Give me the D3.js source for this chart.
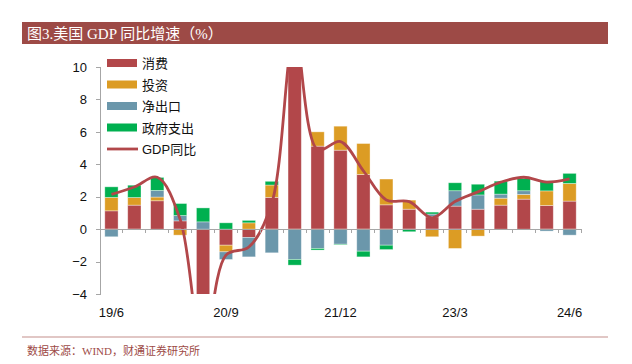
<!DOCTYPE html>
<meta charset="utf-8" />
<style>
  body {
    margin: 0;
    background: #fff;
    font: 13px "Liberation Sans", Arial, sans-serif;
  }

  .axis path,
  .axis line {
    fill: none;
    stroke: #a6a6a6;
    stroke-width: 1;
    shape-rendering: crispEdges;
  }

  .axis text {
    font: 13px "Liberation Sans", Arial, sans-serif;
    fill: #111;
  }

  .legend {
    font: 13px "Liberation Sans", "Noto Sans CJK SC", sans-serif;
    fill: #111;
  }
</style>
<body>
  <script src="https://d3js.org/d3.v7.min.js"></script>

  <script>
    // quarters (yy/m), only every 5th is labelled
    var quarters = ["19/6", "19/9", "19/12", "20/3", "20/6", "20/9", "20/12",
      "21/3", "21/6", "21/9", "21/12", "22/3", "22/6", "22/9", "22/12",
      "23/3", "23/6", "23/9", "23/12", "24/3", "24/6"];
    var tickLabels = ["19/6", "20/9", "21/12", "23/3", "24/6"];
    var yTicks = [-4, -2, 0, 2, 4, 6, 8, 10];

    var seriesNames = ["消费", "投资", "净出口", "政府支出"];
    var consumption = [1.13, 1.48, 1.75, 0.51, -6.9, -0.99, -0.51, 1.96, 11.5, 5.12, 4.87,
      3.37, 1.5, 1.23, 0.76, 1.42, 1.23, 1.48, 1.85, 1.46, 1.73];
    var investment = [0.83, 0.47, 0.23, -0.37, -1.9, -0.41, 0.39, 0.76, 2.7, 0.88, 1.48,
      1.91, 1.59, 0.56, -0.47, -1.19, -0.43, 0.43, 0.29, 0.9, 1.09];
    var netExports = [-0.47, -0.05, 0.41, 0.33, 0.45, -0.47, -1.2, -1.46, -1.87, -1.19, -0.93,
      -1.36, -0.99, 0, 0.17, 0.95, 0.88, 0.25, 0.23, -0.12, -0.37];
    var government = [0.65, 0.76, 0.8, 0.74, 0.86, 0.39, 0.15, 0.23, -0.35, -0.1, -0.04,
      -0.35, -0.27, -0.16, 0.12, 0.49, 0.66, 0.8, 0.76, 0.62, 0.62];
    var gdp = [2.15, 2.6, 3.2, 0.6, -7.5, -1.6, -1.1, 1.6, 12.0, 4.9, 5.4,
      3.6, 1.8, 1.7, 0.7, 1.7, 2.3, 2.9, 3.2, 2.9, 3.1];

    var colors = ["#b2474a", "#dc9c24", "#6b97ab", "#00b050"];
    var lineColor = "#b2474a";

    var W = 632, H = 364;
    var margin = { top: 67, right: 51, bottom: 70, left: 100 },
      width = W - margin.left - margin.right,
      height = H - margin.top - margin.bottom;

    var svg = d3.select("body").append("svg")
      .attr("width", W)
      .attr("height", H);

    // title bar
    svg.append("rect")
      .attr("x", 22).attr("y", 22)
      .attr("width", 586).attr("height", 22)
      .attr("fill", "#9d4a46");
    svg.append("text")
      .attr("x", 27).attr("y", 39)
      .style("font", "15px 'Liberation Serif', 'Noto Sans CJK SC', serif")
      .attr("fill", "#fff")
      .text("图3.美国 GDP 同比增速（%）");

    // source line
    svg.append("line")
      .attr("x1", 22).attr("x2", 608)
      .attr("y1", 337).attr("y2", 337)
      .attr("stroke", "#c4908c")
      .attr("stroke-width", 1.2);
    svg.append("text")
      .attr("x", 27).attr("y", 355)
      .style("font", "11px 'Liberation Serif', 'Noto Sans CJK SC', serif")
      .attr("fill", "#9d4a46")
      .text("数据来源：WIND，财通证券研究所");

    var g = svg.append("g")
      .attr("transform", "translate(" + margin.left + "," + margin.top + ")");

    var x = d3.scaleBand().domain(quarters).range([0, width])
      .paddingInner(0.42).paddingOuter(0.21);
    var y = d3.scaleLinear().domain([-4, 10]).range([height, 0]);

    g.append("clipPath").attr("id", "clip")
      .append("rect").attr("width", width).attr("height", height);

    // stacked table built from the arrays
    var table = quarters.map(function (q, i) {
      return { q: q, "消费": consumption[i], "投资": investment[i],
        "净出口": netExports[i], "政府支出": government[i] };
    });
    var stacked = d3.stack().keys(seriesNames)
      .offset(d3.stackOffsetDiverging)(table);

    var plot = g.append("g").attr("clip-path", "url(#clip)");

    // x axis at zero with ticks between bars
    var step = x.step();
    var xAxis = g.append("g").attr("class", "axis")
      .attr("transform", "translate(0," + y(0) + ")");
    xAxis.append("line").attr("x1", 0).attr("x2", width);
    xAxis.selectAll(".tk").data(d3.range(1, quarters.length + 1))
      .enter().append("line")
      .attr("x1", function (d) { return d * step; })
      .attr("x2", function (d) { return d * step; })
      .attr("y1", 0).attr("y2", 4);

    plot.selectAll(".series").data(stacked)
      .enter().append("g")
      .attr("fill", function (d, i) { return colors[i]; })
      .selectAll("rect").data(function (d) { return d; })
      .enter().append("rect")
      .attr("x", function (d) { return x(d.data.q); })
      .attr("width", x.bandwidth())
      .attr("y", function (d) { return y(Math.max(d[0], d[1])); })
      .attr("height", function (d) { return Math.abs(y(d[0]) - y(d[1])); })
      .attr("stroke", "#fff")
      .attr("stroke-opacity", 0.45)
      .attr("stroke-width", 0.8);

    // GDP line
    var line = d3.line()
      .x(function (d, i) { return x(quarters[i]) + x.bandwidth() / 2; })
      .y(function (d) { return y(d); })
      .curve(d3.curveCatmullRom.alpha(0.5));

    plot.append("path")
      .datum(gdp)
      .attr("d", line)
      .attr("fill", "none")
      .attr("stroke", lineColor)
      .attr("stroke-width", 2.8);

    // y axis
    g.append("g").attr("class", "axis")
      .call(d3.axisLeft(y).tickValues(yTicks).tickSize(4).tickPadding(9)
        .tickFormat(d3.format("d")));

    // x labels
    g.append("g").selectAll("text").data(tickLabels)
      .enter().append("text")
      .attr("x", function (d) { return x(d) + x.bandwidth() / 2; })
      .attr("y", height + 23)
      .attr("text-anchor", "middle")
      .style("font", "13px 'Liberation Sans', Arial, sans-serif")
      .attr("fill", "#111")
      .text(function (d) { return d; });

    // legend
    var legend = g.append("g").attr("transform", "translate(7,-4)");
    var items = seriesNames.concat(["GDP同比"]);
    items.forEach(function (name, i) {
      var row = legend.append("g").attr("transform", "translate(0," + i * 21.5 + ")");
      if (i < 4) {
        row.append("rect").attr("x", 0).attr("y", -4)
          .attr("width", 30).attr("height", 8)
          .attr("fill", colors[i]);
      } else {
        row.append("line").attr("x1", 0).attr("x2", 31)
          .attr("stroke", lineColor).attr("stroke-width", 2.8);
      }
      row.append("text").attr("class", "legend")
        .attr("x", 35).attr("y", 5)
        .text(name);
    });
  </script>
</body>
